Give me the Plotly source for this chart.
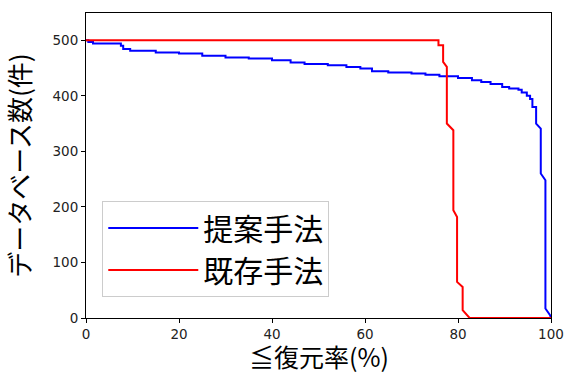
import plotly.graph_objects as go

# 提案手法 (proposed method): recovery-rate threshold (%) vs number of databases
proposed_x = [0, 0.5, 0.5, 1.5, 1.5, 7.5, 7.5, 8, 8, 9.5, 9.5, 15, 15, 20, 20, 25, 25, 30, 30,
              35, 35, 40, 40, 44, 44, 47, 47, 52, 52, 56, 56, 59, 59, 61.5, 61.5, 65, 65,
              70, 70, 73, 73, 76, 76, 80, 80, 83, 83, 85, 85, 87, 87, 89.5, 89.5, 91, 91,
              93, 93, 93.7, 93.7, 94.8, 94.8, 95.5, 95.5, 96, 96, 96.8, 96.8, 97.8, 97.8,
              98.8, 98.8, 99.8, 100]
proposed_y = [500, 500, 497, 497, 494, 494, 490, 490, 484, 484, 481, 481, 478, 478, 476, 476,
              472, 472, 469, 469, 467, 467, 464, 464, 460, 460, 457, 457, 455, 455, 452, 452,
              449, 449, 444, 444, 442, 442, 440, 440, 438, 438, 435, 435, 432, 432, 428, 428,
              425, 425, 421, 421, 416, 416, 413, 413, 411, 411, 406, 406, 400, 400, 394, 394,
              380, 380, 350, 341, 260, 248, 17, 5, 0]

# 既存手法 (existing method)
existing_x = [0, 75.8, 75.8, 76.8, 76.8, 77.6, 77.6, 79, 79, 79.8, 79.8, 81, 81, 81.9, 82.5, 100]
existing_y = [500, 500, 491, 491, 461, 452, 350, 338, 194, 182, 65, 56, 14, 5, 0, 0]

x_ticks = [0, 20, 40, 60, 80, 100]
y_ticks = [0, 100, 200, 300, 400, 500]
x_title = "≦復元率(%)"
y_title = "データベース数(件)"

JP = "Noto Sans CJK JP"
TICK = "DejaVu Sans"

fig = go.Figure()
fig.add_trace(go.Scatter(x=proposed_x, y=proposed_y, mode="lines", name="提案手法",
                         line=dict(color="#0000ff", width=2)))
fig.add_trace(go.Scatter(x=existing_x, y=existing_y, mode="lines", name="既存手法",
                         line=dict(color="#ff0000", width=2)))

axis_common = dict(showline=True, mirror=True, linecolor="black", linewidth=1,
                   ticks="outside", ticklen=4, tickcolor="black", tickwidth=1,
                   showgrid=False, zeroline=False, automargin=False,
                   tickfont=dict(family=TICK, size=13.5, color="#222"))

fig.update_layout(
    width=567, height=374,
    margin=dict(l=86, r=16, t=13, b=56),
    paper_bgcolor="white", plot_bgcolor="white",
    xaxis=dict(range=[0, 100], tickvals=x_ticks, **axis_common),
    yaxis=dict(range=[0, 549], tickvals=y_ticks,
               title=dict(text=y_title, font=dict(family=JP, size=26, color="black")),
               **axis_common),
    legend=dict(x=0.035, y=0.384, xanchor="left", yanchor="top",
                bordercolor="#cccccc", borderwidth=1, bgcolor="white",
                font=dict(family=JP, size=30, color="black"),
                itemwidth=90, tracegroupgap=0),
    showlegend=True,
    annotations=[dict(text=x_title, xref="paper", yref="paper", x=0.5, y=-0.126,
                      xanchor="center", yanchor="middle", showarrow=False,
                      font=dict(family=JP, size=25, color="black"))],
)

fig.write_html("out.html", config={"displayModeBar": False},
               post_script="document.body.style.margin='0';")
